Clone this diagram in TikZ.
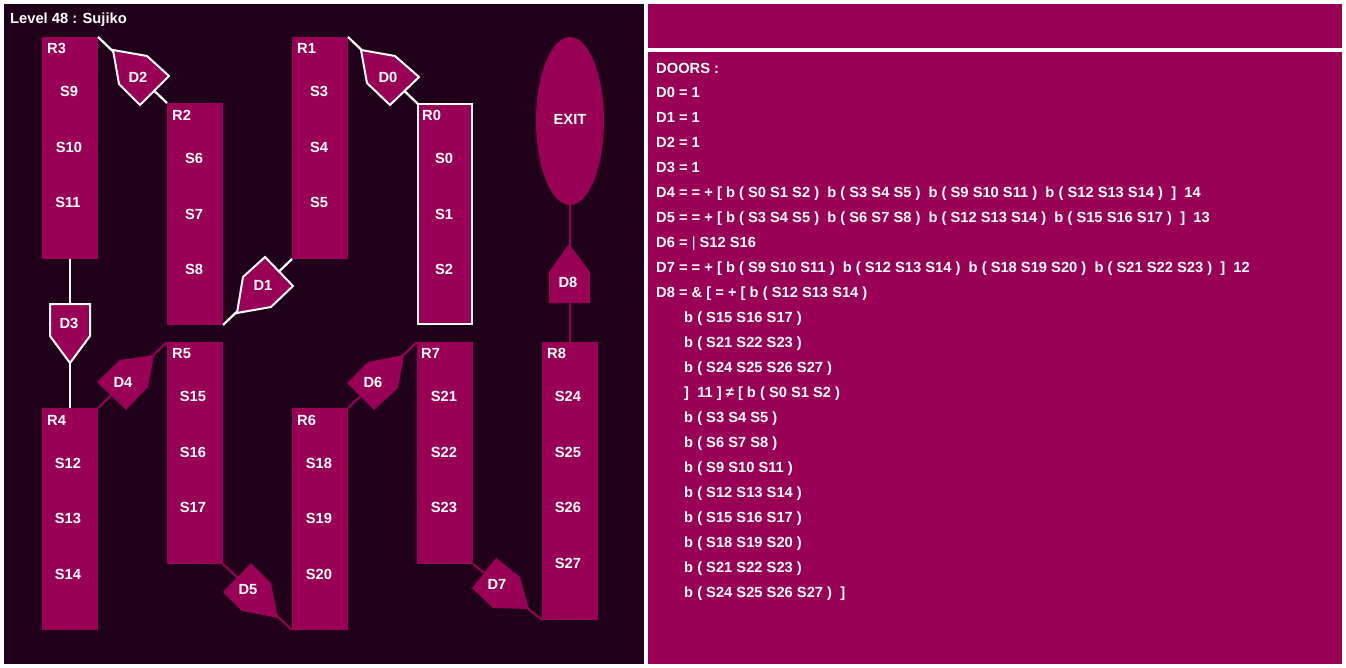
\documentclass[tikz,border=0pt]{standalone}
\usepackage{fontspec}
\setmainfont{Liberation Sans}
\usetikzlibrary{shapes.geometric}
\definecolor{dk}{HTML}{200018}
\definecolor{mag}{HTML}{990055}
\tikzset{
  room/.style={fill=mag, draw=none, anchor=north west, inner sep=0, outer sep=0},
  lbl/.style={text=white, font=\bfseries\fontsize{14.7}{14.7}\selectfont, inner sep=0, text height=10.5pt, text depth=0pt, yshift=-0.8pt},
  txt/.style={lbl, anchor=west},
  odoor/.style={fill=mag, draw=white, line width=2pt, line join=miter},
  olink/.style={draw=white, line width=2.2pt},
  clink/.style={draw=mag, line width=2pt},
}
\begin{document}
\begin{tikzpicture}[x=1pt,y=-1pt]
\useasboundingbox (0,0) rectangle (1346,668);
\fill[white] (0,0) rectangle (1346,668);
\fill[dk] (4,4) rectangle (644,664);
\fill[mag] (648,4) rectangle (1342,48);
\fill[mag] (648,52) rectangle (1342,664);
\node[txt] (title) at (10,17) {Level 48 : Sujiko};
% rooms
\node[room, minimum width=56pt, minimum height=222pt] (R3) at (42,37) {};
\node[room, minimum width=56pt, minimum height=222pt] (R2) at (167,103) {};
\node[room, minimum width=56pt, minimum height=222pt] (R1) at (292,37) {};
\node[room, minimum width=54pt, minimum height=220pt, draw=white, line width=2.5pt] (R0) at (418,104) {};
\node[room, minimum width=56pt, minimum height=222pt] (R5) at (167,342) {};
\node[room, minimum width=56pt, minimum height=222pt] (R7) at (417,342) {};
\node[room, minimum width=56pt, minimum height=278pt] (R8) at (542,342) {};
\node[room, minimum width=56pt, minimum height=222pt] (R4) at (42,408) {};
\node[room, minimum width=56pt, minimum height=222pt] (R6) at (292,408) {};
\node[fill=mag, ellipse, minimum width=68pt, minimum height=168pt, inner sep=0] (EXIT) at (570,121) {};
\node[lbl] (exitl) at (570,118) {EXIT};
% links
\draw[olink] (R3.north east) -- (R2.north west);
\draw[olink] (R1.north east) -- (R0.north west);
\draw[olink] (R1.south west) -- (R2.south east);
\draw[olink] (R3.south) -- (R4.north);
\draw[clink] (R4.north east) -- (R5.north west);
\draw[clink] (R6.north east) -- (R7.north west);
\draw[clink] (R5.south east) -- (R6.south west);
\draw[clink] (R7.south east) -- (R8.south west);
\draw[clink] (EXIT.south) -- (R8.north);
% doors
\draw[odoor] (113,50) -- (147,56) -- (169,76) -- (140,105) -- (119,84) -- cycle;
\draw[odoor] (361,50) -- (395,56) -- (419,77) -- (390,105) -- (367,83) -- cycle;
\draw[odoor] (265,257) -- (293,286) -- (271,307) -- (237,313) -- (243,277) -- cycle;
\draw[odoor] (50,304) -- (90,304) -- (90,336) -- (70,363) -- (50,336) -- cycle;
\fill[mag] (120,360) -- (154,355) -- (148,387) -- (126,410) -- (97,382) -- cycle;
\fill[mag] (368,362) -- (404,355) -- (398,388) -- (374,410) -- (347,383) -- cycle;
\fill[mag] (251,563) -- (271,583) -- (278,618) -- (242,611) -- (223,592) -- cycle;
\fill[mag] (496,558) -- (520,577) -- (529,609) -- (493,608) -- (472,588) -- cycle;
\fill[mag] (569,244) -- (590,272) -- (590,303) -- (549,303) -- (549,272) -- cycle;
\node[lbl] (D2) at (138,76) {D2};
\node[lbl] (D0) at (388,76) {D0};
\node[lbl] (D1) at (263,284) {D1};
\node[lbl] (D3) at (69,322) {D3};
\node[lbl] (D4) at (123,381) {D4};
\node[lbl] (D6) at (373,381) {D6};
\node[lbl] (D5) at (248,588) {D5};
\node[lbl] (D7) at (497,583) {D7};
\node[lbl] (D8) at (568,281) {D8};
% room labels
\node[txt] (lR3) at (47,47) {R3};
\node[txt] (lR2) at (172,114) {R2};
\node[txt] (lR1) at (297,47) {R1};
\node[txt] (lR0) at (422,114) {R0};
\node[txt] (lR5) at (172,352) {R5};
\node[txt] (lR7) at (421,352) {R7};
\node[txt] (lR8) at (547,352) {R8};
\node[txt] (lR4) at (47,419) {R4};
\node[txt] (lR6) at (297,419) {R6};
\node[lbl] (S9) at (69,90) {S9};
\node[lbl] (S10) at (69,146) {S10};
\node[lbl] (S11) at (68,201) {S11};
\node[lbl] (S6) at (194,157) {S6};
\node[lbl] (S7) at (194,213) {S7};
\node[lbl] (S8) at (194,268) {S8};
\node[lbl] (S3) at (319,90) {S3};
\node[lbl] (S4) at (319,146) {S4};
\node[lbl] (S5) at (319,201) {S5};
\node[lbl] (S0) at (444,157) {S0};
\node[lbl] (S1) at (444,213) {S1};
\node[lbl] (S2) at (444,268) {S2};
\node[lbl] (S15) at (193,395) {S15};
\node[lbl] (S16) at (193,451) {S16};
\node[lbl] (S17) at (193,506) {S17};
\node[lbl] (S21) at (444,395) {S21};
\node[lbl] (S22) at (444,451) {S22};
\node[lbl] (S23) at (444,506) {S23};
\node[lbl] (S24) at (568,395) {S24};
\node[lbl] (S25) at (568,451) {S25};
\node[lbl] (S26) at (568,506) {S26};
\node[lbl] (S27) at (568,562) {S27};
\node[lbl] (S12) at (68,462) {S12};
\node[lbl] (S13) at (68,517) {S13};
\node[lbl] (S14) at (68,573) {S14};
\node[lbl] (S18) at (319,462) {S18};
\node[lbl] (S19) at (319,517) {S19};
\node[lbl] (S20) at (319,573) {S20};
% text panel
\node[txt] (t0) at (656,67) {DOORS :};
\node[txt] (t1) at (656,91) {D0 = 1};
\node[txt] (t2) at (656,116) {D1 = 1};
\node[txt] (t3) at (656,141) {D2 = 1};
\node[txt] (t4) at (656,166) {D3 = 1};
\node[txt] (t5) at (656,191) {D4 = = + [ b ( S0 S1 S2 )~ b ( S3 S4 S5 )~ b ( S9 S10 S11 )~ b ( S12 S13 S14 )~ ]~ 14};
\node[txt] (t6) at (656,216) {D5 = = + [ b ( S3 S4 S5 )~ b ( S6 S7 S8 )~ b ( S12 S13 S14 )~ b ( S15 S16 S17 )~ ]~ 13};
\node[txt] (t7) at (656,241) {D6 = {\mdseries|} S12 S16};
\node[txt] (t8) at (656,266) {D7 = = + [ b ( S9 S10 S11 )~ b ( S12 S13 S14 )~ b ( S18 S19 S20 )~ b ( S21 S22 S23 )~ ]~ 12};
\node[txt] (t9) at (656,291) {D8 = \& [ = + [ b ( S12 S13 S14 )};
\node[txt] (t10) at (684,316) {b ( S15 S16 S17 )};
\node[txt] (t11) at (684,341) {b ( S21 S22 S23 )};
\node[txt] (t12) at (684,366) {b ( S24 S25 S26 S27 )};
\node[txt] (t13) at (684,391) {]~ 11 ] ≠ [ b ( S0 S1 S2 )};
\node[txt] (t14) at (684,416) {b ( S3 S4 S5 )};
\node[txt] (t15) at (684,441) {b ( S6 S7 S8 )};
\node[txt] (t16) at (684,466) {b ( S9 S10 S11 )};
\node[txt] (t17) at (684,491) {b ( S12 S13 S14 )};
\node[txt] (t18) at (684,516) {b ( S15 S16 S17 )};
\node[txt] (t19) at (684,541) {b ( S18 S19 S20 )};
\node[txt] (t20) at (684,566) {b ( S21 S22 S23 )};
\node[txt] (t21) at (684,591) {b ( S24 S25 S26 S27 )~ ]};
\end{tikzpicture}
\end{document}
